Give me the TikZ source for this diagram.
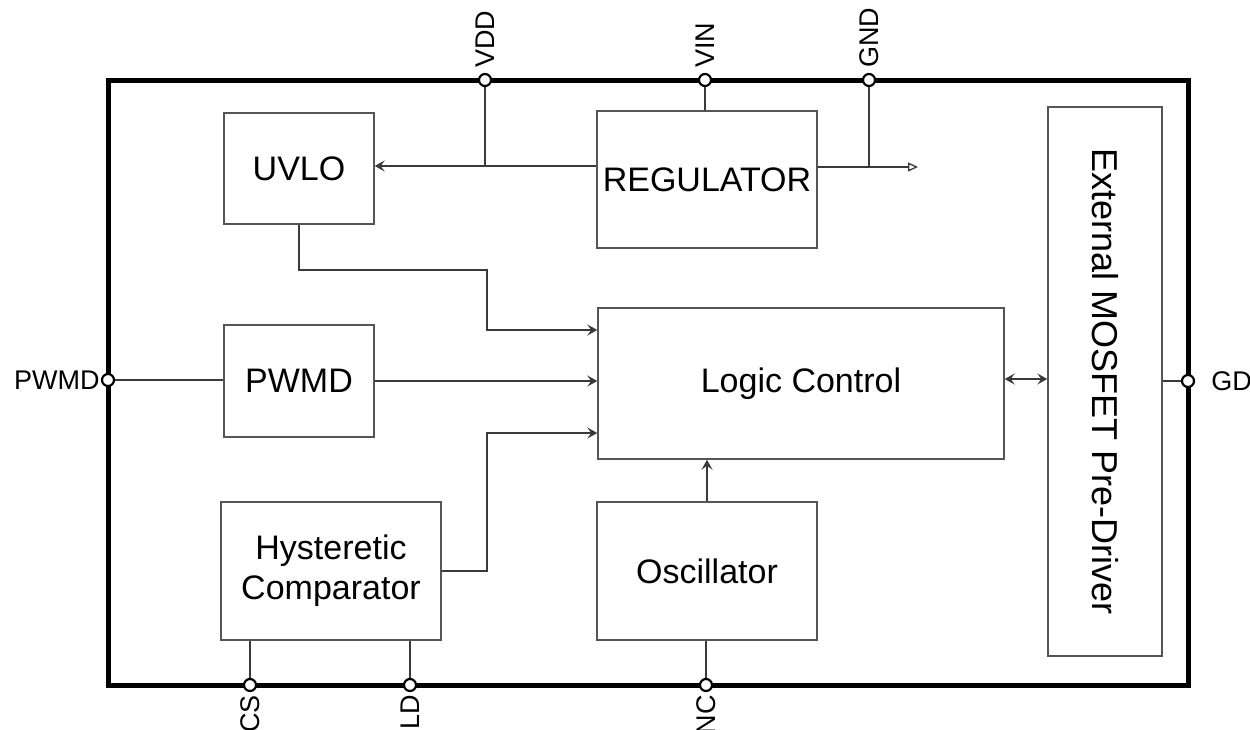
\documentclass[tikz,border=0pt]{standalone}
\usepackage{fontspec}
\setmainfont{Liberation Sans}
\usetikzlibrary{positioning,arrows.meta}
\definecolor{trazo}{HTML}{3A3A3A}
\definecolor{borde}{HTML}{555555}

\begin{document}
\begin{tikzpicture}[x=1pt, y=-1pt,
      bloque/.style={draw=borde, line width=1.4pt, inner sep=0pt, align=center, font=\fontsize{34}{40}\selectfont},
      borne/.style={circle, draw=black, fill=white, line width=2.2pt, minimum size=12pt, inner sep=0pt},
      etiq/.style={inner sep=0pt, font=\fontsize{27}{30}\selectfont},
      fil/.style={draw=trazo, line width=1.3pt},
      pointe/.tip={Stealth[length=10pt, width=11pt, inset=4pt]},
      arrow/.style={fil, -pointe}
    ]
      \useasboundingbox (0,0) rectangle (1250,729);
      \draw[line width=5pt] (108,80) rectangle (1188,685);

      \node[bloque, minimum width=150, minimum height=111] (uvlo) at (299,168.5) {UVLO};
      \node[bloque, minimum width=220, minimum height=137] (reg) at (707,179.5) {REGULATOR};
      \node[bloque, minimum width=406, minimum height=151] (logic) at (801,383.5) {Logic Control};
      \node[bloque, minimum width=150, minimum height=112] (pwmdb) at (299,381) {PWMD};
      \node[bloque, minimum width=220, minimum height=138] (hyst) at (331,571) {Hysteretic\\Comparator};
      \node[bloque, minimum width=220, minimum height=138] (osc) at (707,571) {Oscillator};
      \node[bloque, minimum width=114, minimum height=549] (driver) at (1105,381.5) {};
      \node[font=\fontsize{36}{40}\selectfont, rotate=-90] at (driver.center) {External MOSFET Pre-Driver};

      \node[borne] (vdd) at (485,80) {};
      \node[borne] (vin) at (705,80) {};
      \node[borne] (gnd) at (869,80) {};
      \node[borne] (pwmd) at (108,380) {};
      \node[borne] (gd) at (1188,381) {};
      \node[borne] (cs) at (250,685) {};
      \node[borne] (ld) at (410,685) {};
      \node[borne] (nc) at (706,685) {};

      \node[etiq, rotate=90, anchor=west] at ([yshift=5pt]vdd.north) {VDD};
      \node[etiq, rotate=90, anchor=west] at ([yshift=5pt]vin.north) {VIN};
      \node[etiq, rotate=90, anchor=west] at ([yshift=5pt]gnd.north) {GND};
      \node[etiq, rotate=90, anchor=east] at ([yshift=-3pt]cs.south) {CS};
      \node[etiq, rotate=90, anchor=east] at ([yshift=-3pt]ld.south) {LD};
      \node[etiq, rotate=90, anchor=east] at ([yshift=-3pt]nc.south) {NC};
      \node[etiq, left=1pt of pwmd] {PWMD};
      \node[etiq, right=16pt of gd] {GD};

      \coordinate (jvdd) at (485,166);
      \coordinate (jgnd) at (869,167);
      \coordinate (gndfin) at (918,167);
      \coordinate (coude1) at (487,270);
      \coordinate (coude2) at (487,433);

      % alimentation
      \draw[fil] (vdd) -- (jvdd);
      \draw[arrow] (reg.west |- jvdd) -- (uvlo.east |- jvdd);
      \draw[fil] (vin) -- (vin |- reg.north);
      \draw[fil] (gnd) -- (jgnd);
      \draw[fil, -{Triangle[open, length=10pt, width=9pt]}] (reg.east |- jgnd) -- (gndfin);

      % vers la logique
      \draw[arrow] (uvlo.south) |- (coude1) |- (logic.west |- 0,330);
      \draw[fil] (pwmd) -- (pwmdb.west |- pwmd);
      \draw[arrow] (pwmdb.east) -- (logic.west |- pwmdb.east);
      \draw[arrow] (hyst.east) -| (coude2) -- (logic.west |- coude2);
      \draw[arrow] (osc.north) -- (logic.south -| osc.north);
      \draw[fil, pointe-pointe] (logic.east |- 0,379) -- (driver.west |- 0,379);
      \draw[fil] (driver.east |- gd) -- (gd);

      % broches du bas
      \draw[fil] (hyst.south -| cs) -- (cs);
      \draw[fil] (hyst.south -| ld) -- (ld);
      \draw[fil] (osc.south -| nc) -- (nc);
    \end{tikzpicture}
\end{document}
